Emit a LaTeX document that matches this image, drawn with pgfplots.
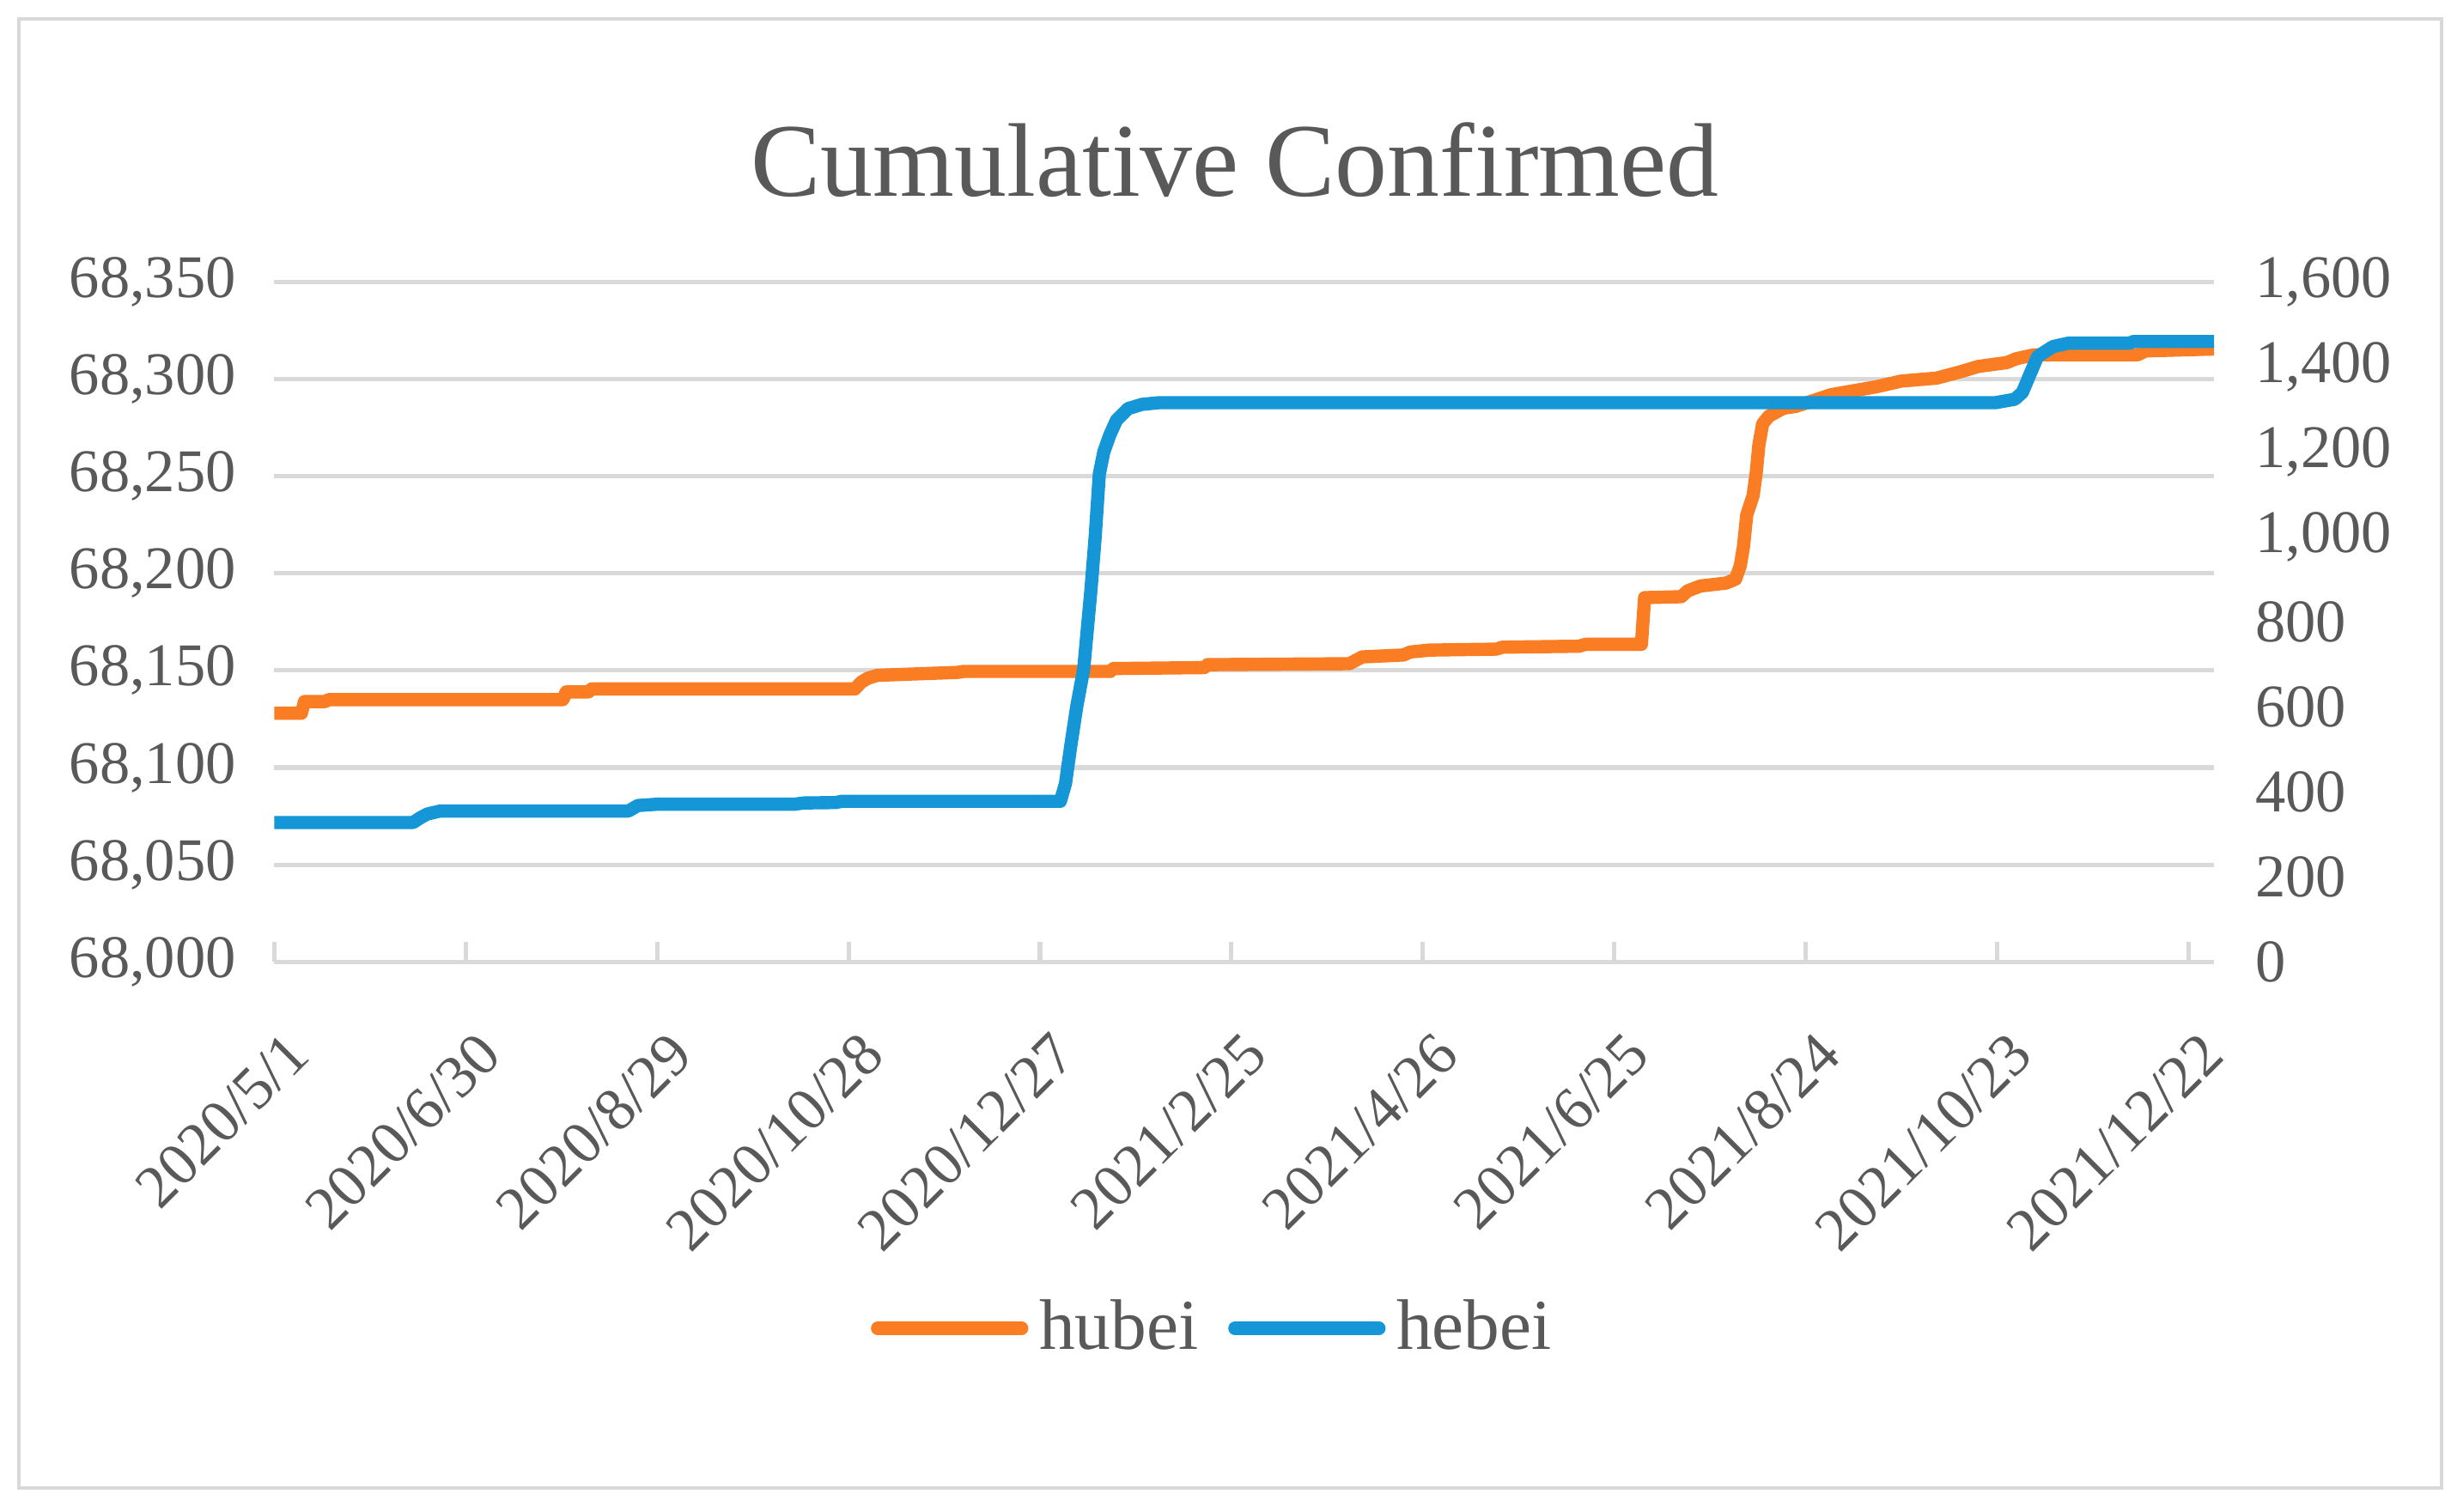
\documentclass[border=0pt]{standalone}
\usepackage{pgfplots}
\pgfplotsset{compat=1.18}
\usepackage{fontspec}
\setmainfont{Liberation Serif}
\definecolor{txt}{HTML}{595959}
\definecolor{gridc}{HTML}{D9D9D9}
\definecolor{hub}{RGB}{250,125,35}
\definecolor{heb}{RGB}{20,150,215}

\pgfplotstableread{
day val
0 68128
8.5 68128
9.5 68134
16 68134
17 68135
90.5 68135
91.5 68139
98.5 68139
99.5 68140.5
182 68140.5
184 68144
186 68146
189 68147.5
197 68148
214 68149
216 68149.5
262 68149.5
263 68151
291.5 68151.5
292.5 68153
337 68153.5
341 68157
354 68158
356 68159.5
362 68160.5
383 68161
385 68162
409 68162.5
411 68163.5
428.5 68163.5
429.5 68187.5
441 68188
443 68191
447 68193.5
455 68195
458 68197
459.5 68204
460.5 68214
461.5 68230
463.5 68240
464.5 68252
465.3 68266
466.5 68277
468.5 68281
473 68285
477 68286
488 68292
502 68296
510 68299
521 68300.5
529 68304
534 68306.5
543 68308.5
546 68310.5
551.5 68312.5
584 68312.5
586.5 68314.5
608 68315.5
}\hubei

\pgfplotstableread{
day val
0 328
43.5 328
46 340
48 348
52 355
111 355
114 368
120 371
163 371
166 374
176 375
178 378
246.4 378
248 420
249.6 506
251.5 600
253.7 689
256 878
257.3 1000
258.6 1148
260 1200
261.9 1240
264 1275
267.6 1302
272 1312
277.4 1316
539.5 1316
545.5 1324
547.9 1340
550.3 1383
552.7 1425
557.5 1448
562.3 1456
581.5 1456
582.7 1460
608 1460
}\hebei

\begin{document}
\begin{tikzpicture}[x=1mm,y=1mm]
\useasboundingbox (0,0) rectangle (156.8,96.5);
\draw[gridc, line width=0.6pt] (1.2,1.5) rectangle (155.8,95.3);
\node[text=txt, font=\fontsize{19}{22}\selectfont, anchor=base] at (78.8,84.0) {Cumulative Confirmed};

\pgfplotsset{
  common/.style={
    at={(17.5mm,35.1mm)}, anchor=south west,
    width=123.8mm, height=43.4mm, scale only axis,
    xmin=0, xmax=608,
    scaled ticks=false,
    tick label style={text=txt, font=\fontsize{11}{13}\selectfont},
    /pgf/number format/.cd, 1000 sep={,}, assume math mode=true,
  },
}

\begin{axis}[
  common,
  ymin=68000, ymax=68350,
  ytick={68000,68050,...,68350},
  xtick={0,60,...,600},
  xticklabels={2020/5/1,2020/6/30,2020/8/29,2020/10/28,2020/12/27,2021/2/25,2021/4/26,2021/6/25,2021/8/24,2021/10/23,2021/12/22},
  axis x line*=bottom, axis y line*=left,
  y axis line style={draw=none}, ytick style={draw=none},
  x axis line style={draw=gridc, line width=0.8pt, -},
  xtick style={draw=gridc, line width=0.8pt},
  xtick align=inside, major tick length=1.3mm,
  ymajorgrids, major grid style={draw=gridc, line width=0.8pt},
  yticklabel style={anchor=east, xshift=-1.2mm},
  xticklabel style={xshift=0.6mm, yshift=-2.6mm, rotate=45, anchor=north east},
]
\addplot[hub, line width=2.4pt, line join=round, line cap=round] table[x=day,y=val] {\hubei};
\end{axis}

\begin{axis}[
  common,
  ymin=0, ymax=1600,
  ytick={0,200,...,1600},
  xtick=\empty,
  axis x line=none, axis y line*=right,
  y axis line style={draw=none}, ytick style={draw=none},
  yticklabel style={anchor=west, xshift=1.4mm},
  legend style={at={(0.4859,-0.539)}, anchor=center, draw=none, fill=none,
    legend columns=2, font=\fontsize{13}{15}\selectfont, text=txt, inner sep=0pt,
    /tikz/every even column/.append style={column sep=1.2mm}},
  legend image code/.code={\draw[#1, line width=2.4pt, line cap=round] (0mm,0mm) -- (9.2mm,0mm);},
]
\addlegendimage{hub}
\addlegendentry{hubei}
\addplot[heb, line width=2.4pt, line join=round, line cap=round] table[x=day,y=val] {\hebei};
\addlegendentry{hebei}
\end{axis}
\end{tikzpicture}
\end{document}
